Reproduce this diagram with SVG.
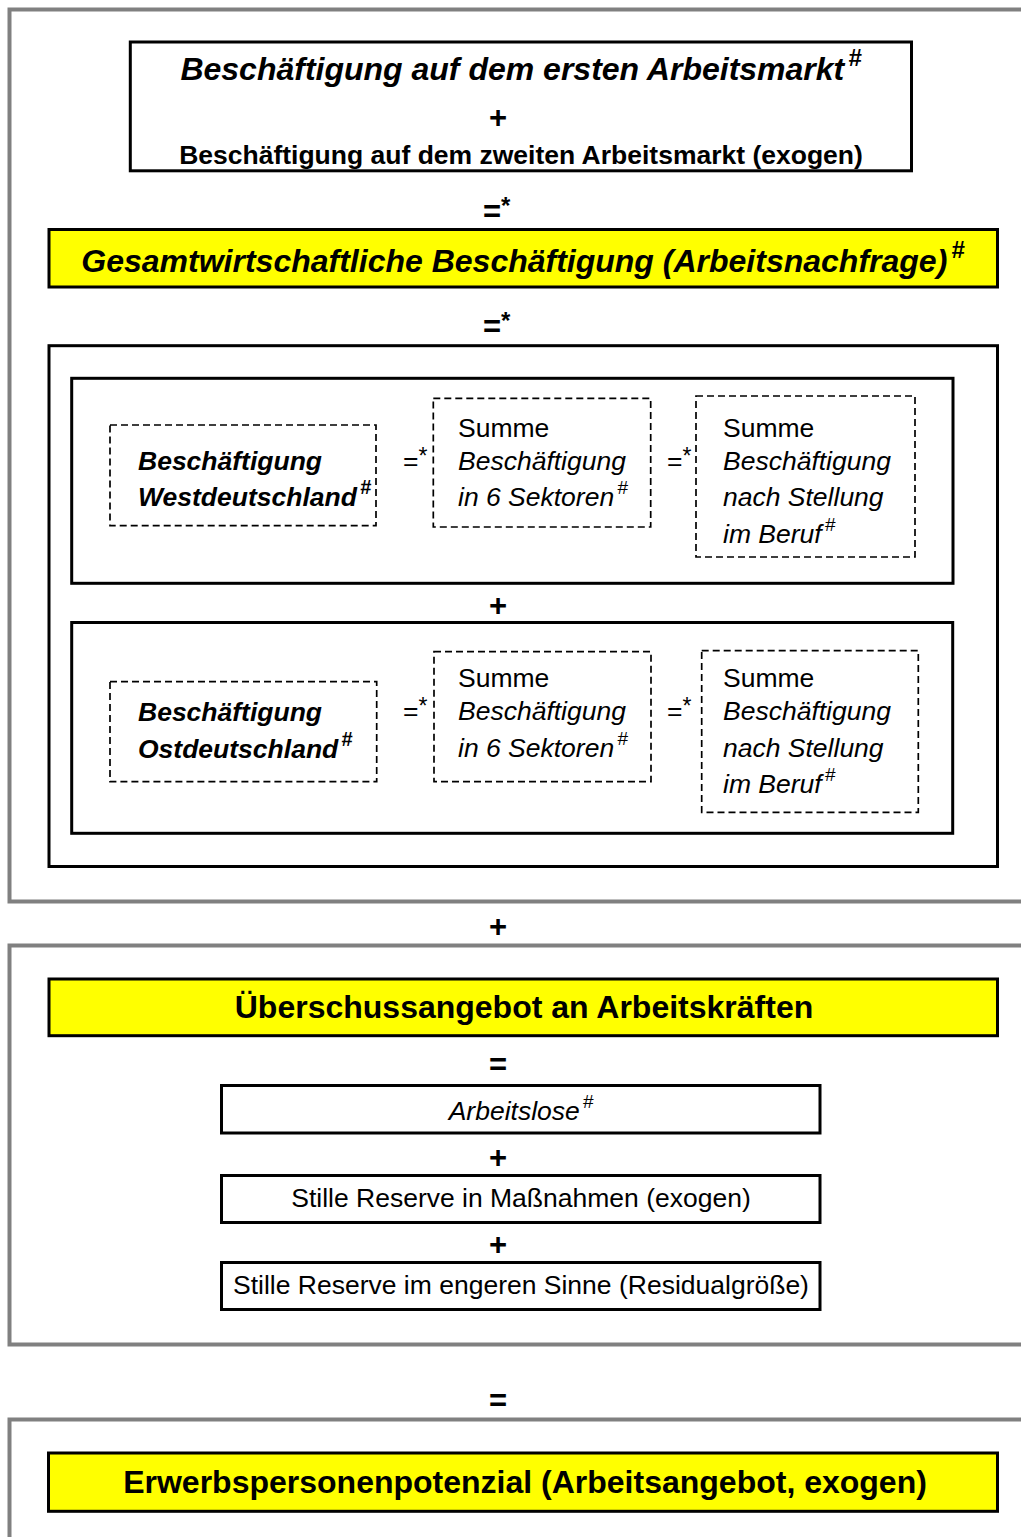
<svg xmlns="http://www.w3.org/2000/svg" width="1021" height="1537" viewBox="0 0 1021 1537">
<style>
text{font-family:"Liberation Sans",Arial,sans-serif;fill:#000}
.frame{fill:none;stroke:#808080;stroke-width:4}
.box{fill:#fff;stroke:#000;stroke-width:3}
.ybox{fill:#ffff00;stroke:#000;stroke-width:3}
.dash{fill:none;stroke:#000;stroke-width:1.7;stroke-dasharray:7 4}
.big{font-size:32px;font-weight:bold}
.bi{font-size:32px;font-weight:bold;font-style:italic}
.n{font-size:26.5px}
.nb{font-size:26.5px;font-weight:bold}
.op{font-size:31px;font-weight:bold}
.nbi{font-size:26.5px;font-weight:bold;font-style:italic}
.ni{font-size:26.5px;font-style:italic}
.c{text-anchor:middle}
</style>
<rect width="1021" height="1537" fill="#fff"/>
<g id="frames">
<path class="frame" d="M1021,9.5 H9.5 V901.5 H1021"/>
<path class="frame" d="M1021,945.5 H9.5 V1344.5 H1021"/>
<path class="frame" d="M1021,1419.5 H9.5 V1537"/>
</g>
<g id="top-box">
<rect class="box" x="130.3" y="42" width="781.2" height="128.8"/>
<text class="bi c" x="521" y="80">Beschäftigung auf dem ersten Arbeitsmarkt<tspan font-size="24" dx="4" dy="-14">#</tspan></text>
<text class="op c" x="498" y="128">+</text>
<text class="nb c" x="521" y="164">Beschäftigung auf dem zweiten Arbeitsmarkt (exogen)</text>
</g>
<g id="gesamt">
<rect class="ybox" x="49" y="229.5" width="948.5" height="57.5"/>
<text class="bi c" x="523" y="272">Gesamtwirtschaftliche Beschäftigung (Arbeitsnachfrage)<tspan font-size="24" dx="4" dy="-14">#</tspan></text>
</g>
<g id="regions-box">
<rect class="box" x="49" y="345.7" width="948.5" height="520.8"/>
</g>
<g id="west">
<rect class="box" x="71.7" y="378.3" width="881.3" height="205"/>
</g>
<g id="west-label">
<rect class="dash" x="110" y="425" width="266" height="100.7"/>
<text class="nbi" x="138" y="470">Beschäftigung</text>
<text class="nbi" x="138" y="506">Westdeutschland<tspan font-size="20" dx="3" dy="-12">#</tspan></text>
</g>
<g id="west-sektoren">
<rect class="dash" x="433.3" y="398.3" width="217.4" height="128.7"/>
<text class="n" x="458" y="437">Summe</text>
<text class="ni" x="458" y="470">Beschäftigung</text>
<text class="ni" x="458" y="506">in 6 Sektoren<tspan font-size="19" dx="3" dy="-12">#</tspan></text>
</g>
<g id="west-stellung">
<rect class="dash" x="696" y="396" width="219" height="161"/>
<text class="n" x="723" y="437">Summe</text>
<text class="ni" x="723" y="470">Beschäftigung</text>
<text class="ni" x="723" y="506">nach Stellung</text>
<text class="ni" x="723" y="543">im Beruf<tspan font-size="19" dx="3" dy="-12">#</tspan></text>
</g>
<g id="ost">
<rect class="box" x="71.7" y="622.5" width="881" height="210.8"/>
</g>
<g id="ost-label">
<rect class="dash" x="110" y="681.7" width="266.7" height="100"/>
<text class="nbi" x="138" y="721">Beschäftigung</text>
<text class="nbi" x="138" y="758">Ostdeutschland<tspan font-size="20" dx="3" dy="-12">#</tspan></text>
</g>
<g id="ost-sektoren">
<rect class="dash" x="434" y="651.7" width="217" height="130"/>
<text class="n" x="458" y="687">Summe</text>
<text class="ni" x="458" y="720">Beschäftigung</text>
<text class="ni" x="458" y="757">in 6 Sektoren<tspan font-size="19" dx="3" dy="-12">#</tspan></text>
</g>
<g id="ost-stellung">
<rect class="dash" x="701.7" y="650.7" width="216.6" height="161.6"/>
<text class="n" x="723" y="687">Summe</text>
<text class="ni" x="723" y="720">Beschäftigung</text>
<text class="ni" x="723" y="757">nach Stellung</text>
<text class="ni" x="723" y="793">im Beruf<tspan font-size="19" dx="3" dy="-12">#</tspan></text>
</g>
<g id="ueberschuss">
<rect class="ybox" x="49" y="979" width="948.5" height="56.7"/>
<text class="big c" x="524" y="1018">Überschussangebot an Arbeitskräften</text>
</g>
<g id="arbeitslose">
<rect class="box" x="221.5" y="1085.5" width="598.5" height="47.5"/>
<text class="ni c" x="521" y="1120">Arbeitslose<tspan font-size="19" dx="3" dy="-12">#</tspan></text>
</g>
<g id="stille-massnahmen">
<rect class="box" x="221.5" y="1175.5" width="598.5" height="47"/>
<text class="n c" x="521" y="1207">Stille Reserve in Maßnahmen (exogen)</text>
</g>
<g id="stille-eng">
<rect class="box" x="221.5" y="1262.5" width="598.5" height="47"/>
<text class="n c" x="521" y="1294">Stille Reserve im engeren Sinne (Residualgröße)</text>
</g>
<g id="erwerbspersonenpotenzial">
<rect class="ybox" x="48.5" y="1453" width="949" height="58.3"/>
<text class="big c" x="525" y="1493">Erwerbspersonenpotenzial (Arbeitsangebot, exogen)</text>
</g>
<g id="connectors">
<text class="op" x="483" y="222">=<tspan font-size="24" dy="-8">*</tspan></text>
<text class="op" x="483" y="337">=<tspan font-size="24" dy="-8">*</tspan></text>
<text class="n" x="403" y="470">=<tspan font-size="23" dy="-6">*</tspan></text>
<text class="n" x="667" y="470">=<tspan font-size="23" dy="-6">*</tspan></text>
<text class="op c" x="498" y="616">+</text>
<text class="n" x="403" y="720">=<tspan font-size="23" dy="-6">*</tspan></text>
<text class="n" x="667" y="720">=<tspan font-size="23" dy="-6">*</tspan></text>
<text class="op c" x="498" y="937">+</text>
<text class="op c" x="498" y="1075">=</text>
<text class="op c" x="498" y="1168">+</text>
<text class="op c" x="498" y="1255">+</text>
<text class="op c" x="498" y="1411">=</text>
</g>
</svg>
